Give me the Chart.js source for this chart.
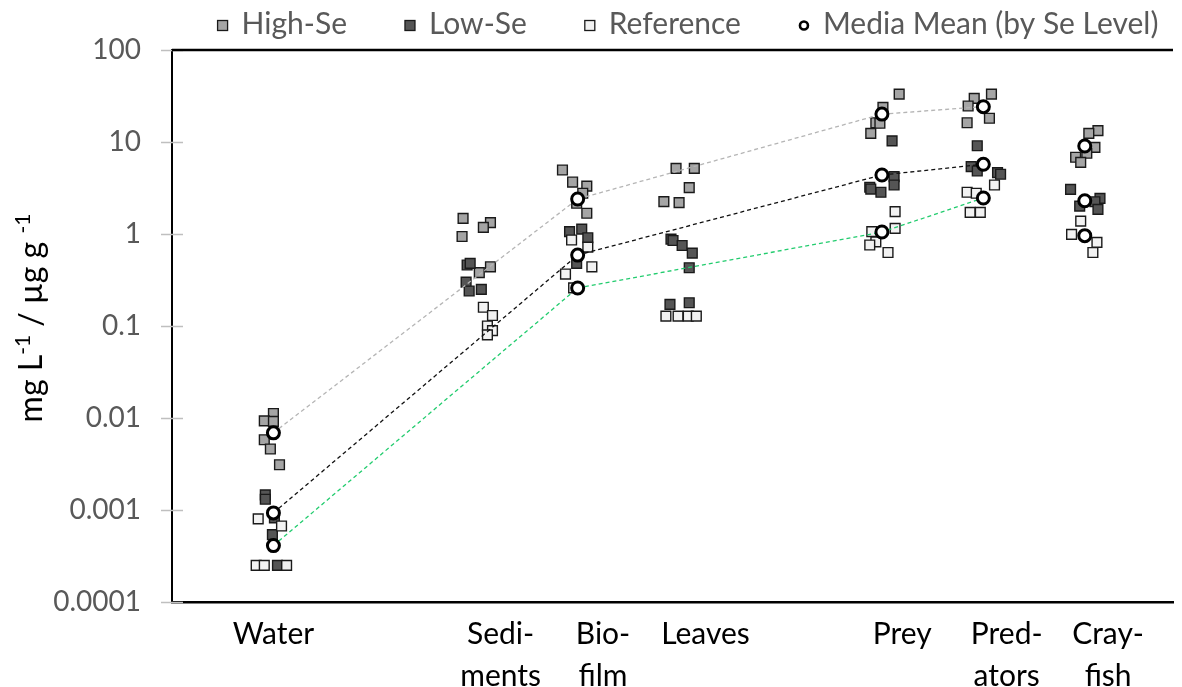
<!DOCTYPE html>
<html>
<head>
<meta charset="utf-8">
<script src="https://cdn.jsdelivr.net/npm/chart.js@4.4.0/dist/chart.umd.min.js"></script>
<style>
  html, body { margin: 0; padding: 0; background: #fff; overflow: hidden; }
  canvas { display: block; }
</style>
</head>
<body>
<canvas id="chart" width="1182" height="687"></canvas>
<script>
// Sample groups along the food web, with where each name sits on the x axis
const categories = [['Water'], ['Sedi-', 'ments'], ['Bio-', 'film'], ['Leaves'], ['Prey'], ['Pred-', 'ators'], ['Cray-', 'fish']];
const categoryTickPositions = [1, 3.24, 4.25, 5.26, 7.2, 8.23, 9.23];

// Log axis ticks
const yTickValues = [0.0001, 0.001, 0.01, 0.1, 1, 10, 100];
const yTickLabels = ['0.0001', '0.001', '0.01', '0.1', '1', '10', '100'];

// Individual samples: x = group position (with a little spread), y = Se concentration
const highSeX = [1.00, 0.91, 1.00, 0.91, 0.97, 1.06,
                 2.87, 3.14, 3.07, 2.86, 3.14, 3.03,
                 3.85, 3.95, 4.09, 4.05, 3.99, 4.09,
                 4.97, 5.15, 5.10, 4.85, 5.00,
                 7.17, 7.01, 6.94, 6.98, 6.89,
                 8.08, 7.91, 7.85, 8.06, 7.84,
                 9.13, 9.04, 9.10, 8.91, 9.02, 8.96];
const highSeY = [0.0112, 0.0093, 0.0092, 0.0058, 0.0046, 0.0031,
                 1.48, 1.33, 1.18, 0.94, 0.44, 0.38,
                 4.96, 3.67, 3.32, 2.77, 2.16, 1.68,
                 5.17, 5.17, 3.19, 2.25, 2.19,
                 33.2, 23.8, 16.2, 16.0, 12.4,
                 33.2, 29.8, 24.6, 18.1, 16.2,
                 13.3, 12.4, 8.75, 6.82, 7.54, 6.01];

const lowSeX = [0.92, 0.92, 1.01, 0.99, 1.04,
                2.91, 2.94, 2.90, 2.93, 3.05,
                3.92, 4.04, 4.10, 3.99,
                4.92, 4.94, 5.03, 5.13, 5.10, 4.91, 5.10,
                7.10, 7.12, 7.12, 6.88, 6.89, 6.99,
                7.94, 7.88, 7.94, 8.14, 8.17,
                8.86, 9.15, 9.10, 8.95, 9.13];
const lowSeY = [0.00146, 0.00131, 0.00082, 0.00054, 0.00025,
                0.46, 0.48, 0.30, 0.24, 0.25,
                1.06, 1.13, 0.91, 0.48,
                0.88, 0.85, 0.75, 0.62, 0.43, 0.172, 0.179,
                10.3, 4.2, 3.41, 3.22, 3.08, 2.84,
                9.1, 5.4, 4.84, 4.64, 4.46,
                3.06, 2.44, 2.24, 2.01, 1.85];

const refX = [0.85, 1.08, 0.83, 0.91, 1.13,
              3.07, 3.16, 3.11, 3.16, 3.11,
              3.94, 4.10, 3.88, 4.14, 3.96,
              4.87, 4.99, 5.09, 5.17,
              7.13, 7.13, 6.90, 6.94, 6.88, 7.06,
              8.11, 7.84, 7.93, 7.87, 7.97,
              8.96, 8.87, 9.12, 9.08];
const refY = [0.0008, 0.00067, 0.00025, 0.00025, 0.00025,
              0.16, 0.13, 0.10, 0.089, 0.080,
              0.86, 0.72, 0.367, 0.44, 0.26,
              0.128, 0.128, 0.128, 0.128,
              1.75, 1.15, 1.06, 0.82, 0.76, 0.63,
              3.41, 2.84, 2.77, 1.72, 1.72,
              1.38, 0.99, 0.81, 0.63];

// Media means by Se level: Water, Biofilm, Prey, Predators, Crayfish
const meanX = [1, 4, 7, 8, 9];
const meanHigh = [0.0069, 2.4, 20.1, 24.2, 9.05];
const meanLow = [0.00093, 0.59, 4.38, 5.72, 2.30];
const meanRef = [0.00041, 0.259, 1.05, 2.46, 0.96];

const seriesNames = ['High-Se', 'Low-Se', 'Reference', 'Media Mean (by Se Level)'];

const pairs = (xs, ys) => xs.map((x, i) => ({ x: x, y: ys[i] }));

const FONT = 'Lato';
Chart.defaults.font.family = FONT;

function squareSet(label, xs, ys, fill, order) {
  return {
    label: label,
    data: pairs(xs, ys),
    showLine: false,
    pointStyle: 'rect',
    pointRadius: 6.9,
    pointHoverRadius: 6.9,
    backgroundColor: fill,
    borderColor: '#1a1a1a',
    borderWidth: 1.4,
    order: order
  };
}

function meanSet(ys, lineColor, order) {
  const last = meanX.length - 1;
  return {
    label: seriesNames[3],
    data: pairs(meanX, ys),
    showLine: true,
    borderColor: lineColor,
    borderWidth: 1.3,
    borderDash: [4, 3],
    segment: {
      // crayfish mean stands alone, not joined to the food-chain line
      borderColor: ctx => ctx.p1DataIndex === last ? 'rgba(0,0,0,0)' : lineColor
    },
    pointStyle: 'circle',
    pointRadius: 6,
    pointHoverRadius: 6,
    pointBackgroundColor: '#ffffff',
    pointBorderColor: '#000000',
    pointBorderWidth: 3,
    tension: 0,
    order: order
  };
}

// Top frame line and the short tick marks crossing the value axis
const framePlugin = {
  id: 'frame',
  beforeDatasetsDraw(chart) {
    const { ctx, chartArea, scales } = chart;
    ctx.save();
    ctx.strokeStyle = '#bfbfbf';
    ctx.lineWidth = 1.5;
    scales.y.ticks.forEach(t => {
      const py = Math.round(scales.y.getPixelForValue(t.value)) + 0.5;
      ctx.beginPath();
      ctx.moveTo(chartArea.left - 11, py);
      ctx.lineTo(chartArea.left + 11, py);
      ctx.stroke();
    });
    ctx.strokeStyle = '#000';
    ctx.lineWidth = 2.5;
    ctx.beginPath();
    ctx.moveTo(chartArea.left, chartArea.top);
    ctx.lineTo(chartArea.right, chartArea.top);
    ctx.stroke();
    ctx.restore();
  }
};

// Vertical axis title with superscript exponents
const yTitlePlugin = {
  id: 'yTitle',
  afterDraw(chart, args, opts) {
    const { ctx } = chart;
    const parts = [['mg L', false], ['-1', true], [' / \u00b5g g ', false], ['-1', true]];
    const big = '32px ' + FONT, small = '21px ' + FONT;
    ctx.save();
    let total = 0;
    parts.forEach(p => { ctx.font = p[1] ? small : big; total += ctx.measureText(p[0]).width; });
    ctx.translate(opts.x, opts.y);
    ctx.rotate(-Math.PI / 2);
    ctx.fillStyle = '#000';
    ctx.textBaseline = 'alphabetic';
    ctx.textAlign = 'left';
    let cx = -total / 2;
    parts.forEach(p => {
      ctx.font = p[1] ? small : big;
      ctx.fillText(p[0], cx, p[1] ? -12 : 0);
      cx += ctx.measureText(p[0]).width;
    });
    ctx.restore();
  }
};

// Legend row above the plot
const legendPlugin = {
  id: 'legendRow',
  afterDraw(chart, args, opts) {
    const { ctx } = chart;
    const ds = chart.data.datasets;
    ctx.save();
    ctx.font = '30px ' + FONT;
    const widths = seriesNames.map(n => ctx.measureText(n).width);
    const markerToText = 24, gap = 58;
    const total = widths.reduce((a, w) => a + markerToText + w, 0) + gap * (seriesNames.length - 1);
    let x = opts.centerX - total / 2;
    const my = opts.markerY;
    seriesNames.forEach((name, i) => {
      if (i < 3) {
        ctx.fillStyle = ds[i].backgroundColor;
        ctx.strokeStyle = ds[i].borderColor;
        ctx.lineWidth = 1.3;
        ctx.fillRect(x, my - 5, 10, 10);
        ctx.strokeRect(x, my - 5, 10, 10);
      } else {
        ctx.beginPath();
        ctx.arc(x + 5, my, 4, 0, Math.PI * 2);
        ctx.fillStyle = '#fff';
        ctx.fill();
        ctx.lineWidth = 2.6;
        ctx.strokeStyle = '#000';
        ctx.stroke();
      }
      ctx.fillStyle = '#595959';
      ctx.textBaseline = 'alphabetic';
      ctx.fillText(name, x + markerToText, opts.textBaseline);
      x += markerToText + widths[i] + gap;
    });
    ctx.restore();
  }
};

new Chart(document.getElementById('chart'), {
  type: 'scatter',
  data: {
    datasets: [
      squareSet(seriesNames[0], highSeX, highSeY, '#a5a5a5', 6),
      squareSet(seriesNames[1], lowSeX, lowSeY, '#555555', 5),
      squareSet(seriesNames[2], refX, refY, '#f2f2f2', 4),
      meanSet(meanHigh, '#b5b5b5', 3),
      meanSet(meanLow, '#111111', 2),
      meanSet(meanRef, '#22cc6e', 1)
    ]
  },
  options: {
    responsive: false,
    animation: false,
    devicePixelRatio: 1,
    layout: { padding: { top: 50, right: 0, bottom: 0, left: 0 } },
    plugins: {
      legend: { display: false },
      tooltip: { enabled: false },
      yTitle: { x: 42, y: 318 },
      legendRow: { centerX: 688, markerY: 25.5, textBaseline: 34 }
    },
    scales: {
      x: {
        type: 'linear',
        min: 0,
        max: 9.87,
        grid: { display: false, drawTicks: false },
        border: { display: true, color: '#000', width: 2.5 },
        afterFit: s => { s.height = 85; },
        afterBuildTicks: s => { s.ticks = categoryTickPositions.map(v => ({ value: v })); },
        ticks: {
          autoSkip: false,
          maxRotation: 0,
          minRotation: 0,
          padding: 11,
          color: '#000',
          font: { family: FONT, size: 30, lineHeight: 1.4 },
          callback: (v, i) => categories[i]
        }
      },
      y: {
        type: 'logarithmic',
        min: 0.0001,
        max: 100,
        grid: { display: false, drawTicks: false },
        border: { display: true, color: '#000', width: 2 },
        afterFit: s => { s.width = 172; },
        afterBuildTicks: s => { s.ticks = yTickValues.map(v => ({ value: v })); },
        ticks: {
          padding: 31,
          color: '#595959',
          font: { family: FONT, size: 28 },
          callback: (v, i) => yTickLabels[i]
        }
      }
    }
  },
  plugins: [framePlugin, yTitlePlugin, legendPlugin]
});
</script>
</body>
</html>
